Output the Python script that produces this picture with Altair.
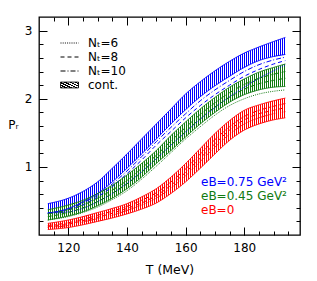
import math
import altair as alt
import pandas as pd

# ---------------- data ----------------
T = [113, 120, 125, 130, 135, 140, 145, 150, 155, 160, 165, 170, 175, 180, 185, 190, 194]

# eB = 0.75 GeV^2 (blue)
b_top = [0.46, 0.54, 0.64, 0.78, 0.98, 1.19, 1.41, 1.63, 1.85, 2.07, 2.25, 2.41, 2.55, 2.67, 2.76, 2.84, 2.90]
b_bot = [0.32, 0.39, 0.49, 0.61, 0.78, 0.98, 1.19, 1.41, 1.63, 1.84, 2.03, 2.19, 2.33, 2.46, 2.56, 2.62, 2.65]
b_n6 = [0.32, 0.34, 0.39, 0.49, 0.61, 0.76, 0.93, 1.12, 1.32, 1.51, 1.70, 1.87, 2.03, 2.17, 2.30, 2.41, 2.50]
b_n8 = [0.32, 0.37, 0.44, 0.56, 0.71, 0.90, 1.10, 1.32, 1.52, 1.72, 1.90, 2.06, 2.20, 2.33, 2.43, 2.51, 2.56]
b_n10 = [0.32, 0.38, 0.47, 0.59, 0.75, 0.94, 1.15, 1.37, 1.58, 1.78, 1.97, 2.13, 2.27, 2.40, 2.50, 2.57, 2.61]

# eB = 0.45 GeV^2 (green)
g_top = [0.37, 0.44, 0.51, 0.61, 0.73, 0.88, 1.05, 1.24, 1.46, 1.66, 1.85, 2.02, 2.17, 2.29, 2.39, 2.46, 2.51]
g_bot = [0.22, 0.28, 0.34, 0.43, 0.54, 0.68, 0.85, 1.05, 1.24, 1.44, 1.63, 1.80, 1.95, 2.06, 2.13, 2.17, 2.18]
g_n6 = [0.22, 0.27, 0.33, 0.41, 0.52, 0.65, 0.82, 1.01, 1.21, 1.41, 1.59, 1.76, 1.90, 2.00, 2.07, 2.11, 2.13]
g_n8 = [0.27, 0.33, 0.40, 0.49, 0.61, 0.75, 0.92, 1.12, 1.32, 1.52, 1.71, 1.88, 2.02, 2.14, 2.22, 2.27, 2.30]
g_n10 = [0.31, 0.37, 0.44, 0.54, 0.66, 0.80, 0.98, 1.17, 1.38, 1.58, 1.77, 1.94, 2.09, 2.21, 2.30, 2.36, 2.40]

# eB = 0 (red)
r_top = [0.17, 0.22, 0.27, 0.33, 0.39, 0.46, 0.56, 0.68, 0.85, 1.05, 1.27, 1.49, 1.68, 1.83, 1.91, 1.97, 2.01]
r_bot = [0.08, 0.11, 0.15, 0.20, 0.25, 0.31, 0.38, 0.47, 0.61, 0.78, 0.98, 1.19, 1.39, 1.54, 1.63, 1.69, 1.72]
r_n6 = [0.11, 0.14, 0.19, 0.24, 0.29, 0.36, 0.44, 0.54, 0.69, 0.87, 1.08, 1.29, 1.48, 1.63, 1.72, 1.78, 1.81]
r_n8 = [0.12, 0.16, 0.21, 0.26, 0.32, 0.39, 0.47, 0.58, 0.73, 0.92, 1.13, 1.34, 1.54, 1.69, 1.78, 1.83, 1.87]
r_n10 = [0.14, 0.18, 0.23, 0.29, 0.35, 0.42, 0.51, 0.62, 0.78, 0.97, 1.19, 1.40, 1.59, 1.74, 1.83, 1.89, 1.93]

EB_LABELS = ["eB=0.75 GeV²", "eB=0.45 GeV²", "eB=0"]
COLORS = ["#0000ff", "#107a10", "#ff0000"]
NT_LABELS = ["Nₜ=6", "Nₜ=8", "Nₜ=10", "cont."]

X_MAJOR = [120, 140, 160, 180]
X_MINOR = [115, 120, 125, 130, 135, 140, 145, 150, 155, 160, 165, 170, 175, 180, 185, 190, 195]
Y_MAJOR = [1, 2, 3]
Y_MINOR = [0.2, 0.4, 0.6, 0.8, 1.0, 1.2, 1.4, 1.6, 1.8, 2.0, 2.2, 2.4, 2.6, 2.8, 3.0]

# ---------------- tables ----------------
tops = [b_top, g_top, r_top]
bots = [b_bot, g_bot, r_bot]
lats = [[b_n6, b_n8, b_n10], [g_n6, g_n8, g_n10], [r_n6, r_n8, r_n10]]

band_rows, line_rows = [], []
for lab, top, bot, lat in zip(EB_LABELS, tops, bots, lats):
    for t, h, l in zip(T, top, bot):
        band_rows.append({"T": t, "lo": l, "hi": h, "eB": lab})
    for edge, ser in (("top", top), ("bot", bot)):
        for t, p in zip(T, ser):
            line_rows.append({"T": t, "P": p, "eB": lab, "Nt": "cont.", "grp": lab + edge})
    for nt, ser in zip(NT_LABELS[:3], lat):
        for t, p in zip(T, ser):
            line_rows.append({"T": t, "P": p, "eB": lab, "Nt": nt, "grp": lab + nt})
bands = pd.DataFrame(band_rows)
lines = pd.DataFrame(line_rows)

X_DOM = [110, 199]
PLOT_W, PLOT_H = 261, 218
xs = alt.Scale(domain=X_DOM, nice=False, zero=False)
ys = alt.Scale(domain=[0, 3.2], nice=False, zero=False)

CLEAR = "rgba(255,255,255,0)"

# hatch stripes aligned to the pixel grid of the band's bounding box
BOX_X0 = (T[0] - X_DOM[0]) / (X_DOM[1] - X_DOM[0]) * PLOT_W
BOX_W = (T[-1] - T[0]) / (X_DOM[1] - X_DOM[0]) * PLOT_W


def stripes(color, period=2.0, line=1.0):
    stops = [alt.GradientStop(offset=0, color=CLEAR)]
    p = math.ceil(BOX_X0) - BOX_X0
    while p < BOX_W:
        a = p / BOX_W
        m = min((p + line) / BOX_W, 1.0)
        b = min((p + period) / BOX_W, 1.0)
        stops += [alt.GradientStop(offset=a, color=CLEAR), alt.GradientStop(offset=a, color=color),
                  alt.GradientStop(offset=m, color=color), alt.GradientStop(offset=m, color=CLEAR),
                  alt.GradientStop(offset=b, color=CLEAR)]
        p += period
    return alt.LinearGradient(gradient="linear", stops=stops, x1=0, x2=1, y1=0, y2=0)


def stripes_expr(color, n=7):
    parts = []
    for i in range(n):
        a, m, b = i / n, (i + 0.5) / n, (i + 1) / n
        parts += ["{offset:%.4f,color:'%s'}" % (a, color), "{offset:%.4f,color:'%s'}" % (m, color),
                  "{offset:%.4f,color:'%s'}" % (m, CLEAR), "{offset:%.4f,color:'%s'}" % (b, CLEAR)]
    return "{gradient:'linear',x1:0,y1:0,x2:1,y2:1,stops:[" + ",".join(parts) + "]}"


def minor_axis(orient, values, size):
    return alt.Axis(orient=orient, values=values, tickSize={"expr": str(-size)}, labels=False, title="")


axes = [
    (alt.Axis(orient="bottom", values=X_MAJOR, tickSize={"expr": "-8"}, labelPadding=15,
              format="d", title="T (MeV)", titleFontSize=12.5, titleY=38.5, titleBaseline="alphabetic"),
     alt.Axis(orient="left", values=Y_MAJOR, tickSize={"expr": "-8"}, labelPadding=15,
              format="d", title="Pᵣ", titleAngle=0, titleX=-26, titleY=111, titleAlign="center",
              titleBaseline="alphabetic", titleFontSize=12)),
    (minor_axis("bottom", X_MINOR, 4), minor_axis("left", Y_MINOR, 4)),
    (minor_axis("top", X_MAJOR, 8), minor_axis("right", Y_MAJOR, 8)),
    (minor_axis("top", X_MINOR, 4), minor_axis("right", Y_MINOR, 4)),
]

layers = []
for i, (lab, col) in enumerate(zip(EB_LABELS, COLORS)):
    xa, ya = axes[i]
    layers.append(
        alt.Chart(bands).transform_filter(alt.datum.eB == lab)
        .mark_area(fill=stripes(col), interpolate="monotone", strokeWidth=0)
        .encode(x=alt.X("T:Q", scale=xs, axis=xa),
                y=alt.Y("lo:Q", scale=ys, axis=ya),
                y2="hi:Q")
    )

is_cont = "datum.value === 'cont.'"
xa, ya = axes[3]
line_layer = alt.Chart(lines).mark_line(interpolate="monotone").encode(
    x=alt.X("T:Q", scale=xs, axis=xa),
    y=alt.Y("P:Q", scale=ys, axis=ya),
    detail="grp:N",
    color=alt.Color("eB:N", scale=alt.Scale(domain=EB_LABELS, range=COLORS),
                    legend=alt.Legend(orient="none", legendX=150, legendY=158, title=None,
                                      symbolSize=0, symbolOpacity=0, symbolStrokeWidth=0,
                                      labelOffset=0, labelFontSize=12, rowPadding=0, clipHeight=14,
                                      padding=0,
                                      labelColor={"expr": "scale('color', datum.value)"})),
    strokeDash=alt.StrokeDash("Nt:N", scale=alt.Scale(domain=NT_LABELS,
                                                      range=[[1, 1.2], [4, 3], [5, 2, 1, 2], [1, 0]]),
                              legend=alt.Legend(orient="none", legendX=21, legendY=19, title=None,
                                                symbolType={"expr": is_cont + " ? 'M-1,-0.32H1V0.32H-1Z' : 'stroke'"},
                                                symbolSize=324,
                                                symbolStrokeWidth={"expr": is_cont + " ? 0.4 : 1"},
                                                symbolStrokeColor="black",
                                                symbolFillColor={"expr": is_cont + " ? " + stripes_expr("#000000") + " : 'transparent'"},
                                                labelOffset=9, labelFontSize=12,
                                                rowPadding=0, clipHeight=14, padding=0)),
    strokeWidth=alt.StrokeWidth("Nt:N", scale=alt.Scale(domain=NT_LABELS, range=[1, 1, 1, 1.6]), legend=None),
)
layers.append(line_layer)

chart = alt.layer(*layers).resolve_axis(x="independent", y="independent").properties(
    width=PLOT_W, height=PLOT_H,
    autosize=alt.AutoSizeParams(type="none"),
    padding={"left": 31, "top": 9, "right": 9, "bottom": 45},
).configure_view(stroke="black", strokeWidth=1.3).configure_axis(
    grid=False, domain=False, labelFont="DejaVu Sans", labelFontSize=12, labelColor="black",
    tickColor="black", tickWidth=1, titleFont="DejaVu Sans", titleFontWeight="normal", titleColor="black",
).configure_legend(labelFont="DejaVu Sans", labelColor="black")

chart.save("out.html", embed_options={"renderer": "svg", "actions": False})
